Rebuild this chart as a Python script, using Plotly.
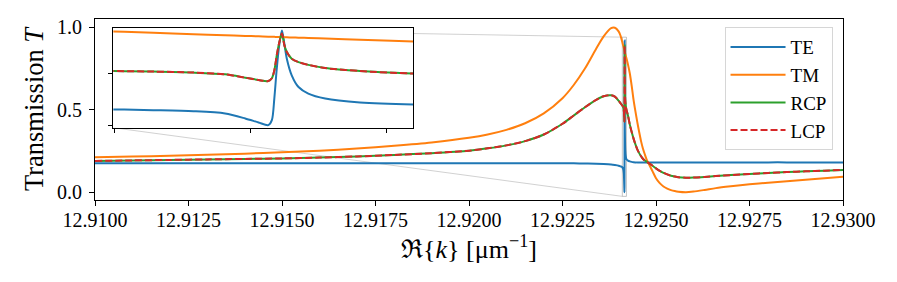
import plotly.graph_objects as go

# Re{k} sample positions (um^-1); dense points resolve the narrow resonance shown in the inset
K = [12.9100, 12.9110, 12.9120, 12.9130, 12.9140, 12.9150, 12.9160, 12.9170, 12.9180, 12.9190,
     12.9200, 12.9205, 12.9210, 12.9215, 12.9220, 12.9225, 12.9228, 12.9231, 12.9234, 12.9236,
     12.9238, 12.9239, 12.9240, 12.92405,
     12.9240997, 12.9241144, 12.9241292, 12.9241408, 12.9241482, 12.9241531, 12.9241567,
     12.9241580, 12.9241589, 12.9241598, 12.9241607, 12.9241617, 12.9241626, 12.9241635,
     12.9241653, 12.9241678, 12.9241714, 12.9241776, 12.9241904, 12.9242100,
     12.92425, 12.9243, 12.92435, 12.9244, 12.92445, 12.9245, 12.92455, 12.9246, 12.92465,
     12.9247, 12.92475, 12.9248, 12.9249, 12.9250, 12.9251, 12.9252, 12.9253, 12.9254,
     12.9255, 12.9256, 12.9258, 12.9260, 12.9263, 12.9266, 12.9270, 12.9275, 12.9280,
     12.9285, 12.9290, 12.9295, 12.9300]

TE = [0.176, 0.176, 0.176, 0.176, 0.176, 0.176, 0.176, 0.176, 0.176, 0.176,
      0.176, 0.176, 0.176, 0.176, 0.176, 0.175, 0.175, 0.174, 0.173, 0.171,
      0.168, 0.165, 0.161, 0.157,
      0.152, 0.145, 0.135, 0.113, 0.065, 0.026, 0.000,
      0.048, 0.258, 0.548, 0.774, 0.919, 0.790, 0.645,
      0.484, 0.370, 0.306, 0.258, 0.220, 0.200,
      0.192, 0.187, 0.184, 0.182, 0.181, 0.181, 0.180, 0.180, 0.180,
      0.180, 0.180, 0.180, 0.180, 0.180, 0.180, 0.180, 0.180, 0.180,
      0.180, 0.180, 0.180, 0.180, 0.180, 0.180, 0.180, 0.180, 0.181,
      0.181, 0.181, 0.181, 0.181]

TM = [0.212, 0.216, 0.221, 0.227, 0.234, 0.242, 0.252, 0.265, 0.282, 0.302,
      0.330, 0.350, 0.378, 0.418, 0.478, 0.570, 0.650, 0.750, 0.870, 0.945,
      0.995, 0.997, 0.975, 0.950,
      0.909, 0.896, 0.883, 0.873, 0.866, 0.862, 0.859,
      0.858, 0.857, 0.856, 0.855, 0.855, 0.854, 0.853,
      0.851, 0.849, 0.846, 0.840, 0.829, 0.812,
      0.775, 0.720, 0.645, 0.560, 0.490, 0.425, 0.365, 0.310, 0.265,
      0.230, 0.198, 0.175, 0.130, 0.085, 0.055, 0.035, 0.022, 0.013,
      0.007, 0.003, 0.000, 0.004, 0.014, 0.025, 0.036, 0.048, 0.058,
      0.067, 0.076, 0.085, 0.094]

RCP = [0.190, 0.193, 0.196, 0.199, 0.202, 0.205, 0.210, 0.217, 0.226, 0.237,
       0.252, 0.266, 0.284, 0.310, 0.350, 0.415, 0.465, 0.515, 0.560, 0.582,
       0.588, 0.580, 0.555, 0.540,
       0.525, 0.520, 0.510, 0.493, 0.461, 0.438, 0.428,
       0.455, 0.530, 0.677, 0.800, 0.890, 0.775, 0.710,
       0.645, 0.612, 0.585, 0.554, 0.525, 0.500,
       0.465, 0.410, 0.365, 0.325, 0.290, 0.260, 0.237, 0.218, 0.203,
       0.192, 0.185, 0.178, 0.162, 0.145, 0.130, 0.118, 0.108, 0.100,
       0.095, 0.091, 0.088, 0.089, 0.093, 0.098, 0.104, 0.111, 0.117,
       0.122, 0.127, 0.131, 0.135]

LCP = list(RCP)

SERIES_NAMES = ["TE", "TM", "RCP", "LCP"]
X_TICKS = [12.9100, 12.9125, 12.9150, 12.9175, 12.9200, 12.9225, 12.9250, 12.9275, 12.9300]
X_TICK_LABELS = ["12.9100", "12.9125", "12.9150", "12.9175", "12.9200", "12.9225",
                 "12.9250", "12.9275", "12.9300"]
Y_TICKS = [0.0, 0.5, 1.0]
Y_TICK_LABELS = ["0.0", "0.5", "1.0"]
INSET_X_TICKS = [12.92410, 12.92415, 12.92420]
INSET_Y_TICKS = [0.0, 0.5]

MAIN_XR = [12.9100, 12.9300]
MAIN_YR = [-0.047, 1.05]
INSET_XR = [12.9240997, 12.9242100]
INSET_YR = [-0.025, 0.94]
INSET_DX = [0.0245, 0.4255]
INSET_DY = [0.3994, 0.9486]

COLORS = ["#1f77b4", "#ff7f0e", "#2ca02c", "#d62728"]
DASHES = ["solid", "solid", "solid", "7px,3px"]
FONT = "Liberation Serif"

fig = go.Figure()
for name, vals, c, d in zip(SERIES_NAMES, [TE, TM, RCP, LCP], COLORS, DASHES):
    fig.add_trace(go.Scatter(x=K, y=vals, mode="lines", name=name,
                             line=dict(color=c, width=2, dash=d, shape="spline", smoothing=0.8),
                             xaxis="x", yaxis="y"))
for name, vals, c, d in zip(SERIES_NAMES, [TE, TM, RCP, LCP], COLORS, DASHES):
    fig.add_trace(go.Scatter(x=K, y=vals, mode="lines", name=name, showlegend=False,
                             line=dict(color=c, width=2, dash=d, shape="spline", smoothing=0.8),
                             xaxis="x2", yaxis="y2"))


def px(x):
    return (x - MAIN_XR[0]) / (MAIN_XR[1] - MAIN_XR[0])


def py(y):
    return (y - MAIN_YR[0]) / (MAIN_YR[1] - MAIN_YR[0])


grey = "rgba(150,150,150,0.55)"
shapes = [dict(type="rect", xref="x", yref="y", x0=INSET_XR[0], x1=INSET_XR[1],
               y0=INSET_YR[0], y1=INSET_YR[1], line=dict(color=grey, width=1), layer="below")]
# connector from inset top-left to rect top-left (visible only outside the inset)
ax0, ay0 = INSET_DX[0], INSET_DY[1]
bx, by = px(INSET_XR[0]), py(INSET_YR[1])
t = (INSET_DX[1] - ax0) / (bx - ax0)
shapes.append(dict(type="line", xref="paper", yref="paper",
                   x0=INSET_DX[1], y0=ay0 + t * (by - ay0), x1=bx, y1=by,
                   line=dict(color=grey, width=0.8), layer="below"))
# connector from inset bottom-left to rect bottom-left
shapes.append(dict(type="line", xref="paper", yref="paper",
                   x0=INSET_DX[0], y0=INSET_DY[0], x1=px(INSET_XR[0]), y1=py(INSET_YR[0]),
                   line=dict(color=grey, width=0.8), layer="below"))

axis_common = dict(showgrid=False, zeroline=False, showline=True, linecolor="black",
                   linewidth=1.2, mirror=True, ticks="outside", tickcolor="black",
                   tickwidth=1, automargin=False)

fig.update_layout(
    width=897, height=282,
    margin=dict(l=95, r=54, t=19, b=82),
    paper_bgcolor="white", plot_bgcolor="white",
    font=dict(family=FONT, size=20, color="black"),
    shapes=shapes,
    xaxis=dict(range=MAIN_XR, tickvals=X_TICKS, ticktext=X_TICK_LABELS, ticklen=5,
               tickfont=dict(family=FONT, size=20), ticklabelstandoff=-3,
               title=dict(text="ℜ{<i>k</i>} [μm<sup>−1</sup>]", font=dict(family=FONT, size=26),
                          standoff=1),
               **axis_common),
    yaxis=dict(range=MAIN_YR, tickvals=Y_TICKS, ticktext=Y_TICK_LABELS, ticklen=5,
               tickfont=dict(family=FONT, size=20), ticklabelstandoff=3,
               title=dict(text="Transmission <i>T</i>", font=dict(family=FONT, size=26.5),
                          standoff=5),
               **axis_common),
    xaxis2=dict(domain=INSET_DX, anchor="y2", range=INSET_XR, tickvals=INSET_X_TICKS,
                showticklabels=False, ticklen=4, **axis_common),
    yaxis2=dict(domain=INSET_DY, anchor="x2", range=INSET_YR, tickvals=INSET_Y_TICKS,
                showticklabels=False, ticklen=4, **axis_common),
    legend=dict(x=0.986, xanchor="right", y=0.955, yanchor="top",
                bgcolor="rgba(255,255,255,0.8)", bordercolor="#d6d6d6", borderwidth=1,
                font=dict(family=FONT, size=19), itemwidth=55, tracegroupgap=0),
    showlegend=True,
)

fig.write_html("out.html", config={"displayModeBar": False},
               post_script="document.body.style.margin='0px';")
